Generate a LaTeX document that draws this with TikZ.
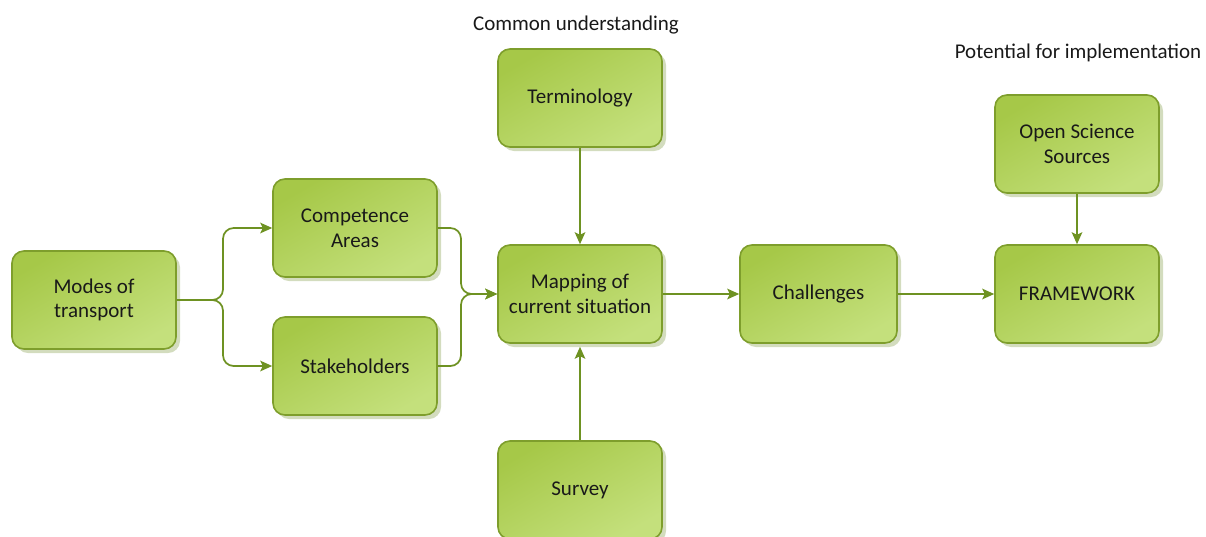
\documentclass[tikz,border=0pt]{standalone}
\usepackage{fontspec}
\setmainfont{Carlito}
\usetikzlibrary{arrows.meta,shadows,calc}
\definecolor{boxborder}{HTML}{7E9E2C}
\definecolor{boxtop}{HTML}{A6C848}
\definecolor{boxbot}{HTML}{C4E07C}
\definecolor{shadowc}{HTML}{D3DCBE}
\definecolor{linec}{HTML}{6E9222}
\tikzset{
  x=0.75pt,y=-0.75pt,
  box/.style={draw=boxborder, line width=1.2pt, rounded corners=9pt,
    top color=boxtop, bottom color=boxbot, shading angle=30,
    minimum width=123pt, minimum height=73.5pt, align=center,
    text=black!90, font=\fontsize{15.75}{18.5}\selectfont,
    drop shadow={shadow xshift=3pt, shadow yshift=-3pt, fill=shadowc, opacity=1}},
  conn/.style={draw=linec, line width=1.3pt, -{Stealth[length=9pt,width=8pt,inset=2pt]}},
  lbl/.style={font=\fontsize{15.75}{18.5}\selectfont, text=black!90}
}
\begin{document}
\begin{tikzpicture}
\useasboundingbox (0,0) rectangle (1206,536);
\node[box] (modes) at (94,300) {Modes of\\transport};
\node[box] (comp) at (355,228) {Competence\\Areas};
\node[box] (stake) at (355,366) {Stakeholders};
\node[box] (term) at (580,98) {Terminology};
\node[box] (map) at (580,294) {Mapping of\\current situation};
\node[box] (survey) at (580,490) {Survey};
\node[box, minimum width=117.75pt] (chal) at (818.5,294) {Challenges};
\node[box] (oss) at (1077,144) {Open Science\\Sources};
\node[box] (frame) at (1077,294) {FRAMEWORK};
\node[lbl] (cu) at (576,25) {Common understanding};
\node[lbl] (pi) at (1078,53) {Potential for implementation};
\coordinate (fl) at (223,300);
\coordinate (fr) at (461,294);
\draw[conn, rounded corners=8pt] (modes.east) -- (fl) |- (comp.west);
\draw[conn, rounded corners=8pt] (modes.east) -- (fl) |- (stake.west);
\draw[conn, rounded corners=8pt] (comp.east) -| (fr) -- (map.west);
\draw[conn, rounded corners=8pt] (stake.east) -| (fr) -- (map.west);
\draw[conn] (term.south) -- (map.north);
\draw[conn] (survey.north) -- ($(map.south)+(0,3)$);
\draw[conn] (map.east) -- (chal.west);
\draw[conn] (chal.east) -- (frame.west);
\draw[conn] (oss.south) -- (frame.north);
\end{tikzpicture}
\end{document}
